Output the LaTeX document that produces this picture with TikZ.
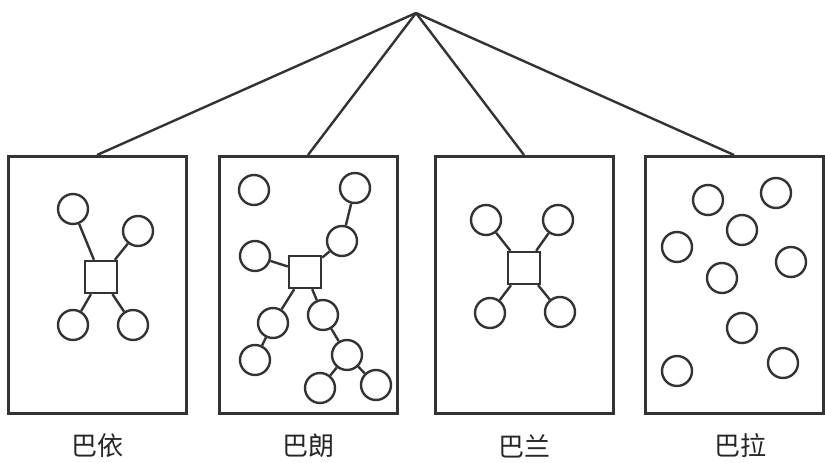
\documentclass[tikz,border=0pt]{standalone}
\usepackage{fontspec}
\newfontfamily\cjk{Noto Sans CJK SC}
\usepackage{tikz}
\usetikzlibrary{positioning}

\tikzset{
  frame/.style={draw=black!80, line width=3pt, minimum width=178pt, minimum height=257pt, inner sep=0pt},
  ball/.style={circle, draw=black!80, line width=2.4pt, minimum size=30pt, inner sep=0pt},
  hub/.style={rectangle, draw=black!80, line width=2.4pt, minimum size=32pt, inner sep=0pt},
  link/.style={draw=black!80, line width=2.4pt},
  tribe/.style={font=\cjk\fontsize{26}{28}\selectfont, text=black!85}
}

\begin{document}
\begin{tikzpicture}[x=1pt, y=-1pt]
  \useasboundingbox (0,0) rectangle (825,463);

  \coordinate (top) at (416,13);
  \node[frame] (b1) at (97,285) {};
  \node[frame] (b2) at (308,285) {};
  \node[frame] (b3) at (524,285) {};
  \node[frame] (b4) at (734,285) {};
  \foreach \b in {b1,b2,b3,b4}
    \draw[link] (top) -- (\b.north);

  \node[tribe] (l1) at (97,446) {巴依};
  \node[tribe] (l2) at (308,446) {巴朗};
  \node[tribe] (l3) at (524,446) {巴兰};
  \node[tribe] (l4) at (740,446) {巴拉};

  % first box
  \node[hub] (s1) at (101,277) {};
  \node[ball] (a1) at (73,209) {};
  \node[ball] (a2) at (138,231) {};
  \node[ball] (a3) at (73,325) {};
  \node[ball] (a4) at (133,325) {};
  \foreach \c in {a1,a2,a3,a4}
    \draw[link] (s1) -- (\c);

  % second box
  \node[hub] (s2) at (305,272) {};
  \node[ball] (c1) at (254,190) {};
  \node[ball] (c2) at (355,188) {};
  \node[ball] (c3) at (342,241) {};
  \node[ball] (c4) at (255,256) {};
  \node[ball] (c5) at (273,323) {};
  \node[ball] (c6) at (255,360) {};
  \node[ball] (c7) at (323,315) {};
  \node[ball] (c8) at (347,355) {};
  \node[ball] (c9) at (320,388) {};
  \node[ball] (c10) at (376,385) {};
  \draw[link] (c2) -- (c3);
  \draw[link] (c3) -- (s2);
  \draw[link] (c4) -- (s2);
  \draw[link] (s2) -- (c5);
  \draw[link] (c5) -- (c6);
  \draw[link] (s2) -- (c7);
  \draw[link] (c7) -- (c8);
  \draw[link] (c8) -- (c9);
  \draw[link] (c8) -- (c10);

  % third box
  \node[hub] (s3) at (524,268) {};
  \node[ball] (d1) at (486,220) {};
  \node[ball] (d2) at (558,220) {};
  \node[ball] (d3) at (490,313) {};
  \node[ball] (d4) at (560,312) {};
  \foreach \c in {d1,d2,d3,d4}
    \draw[link] (s3) -- (\c);

  % fourth box, loose circles only
  \foreach \p [count=\i] in {(708,200),(776,193),(742,230),(677,247),(791,262),(722,278),(742,328),(677,371),(783,363)}
    \node[ball] (e\i) at \p {};
\end{tikzpicture}
\end{document}
